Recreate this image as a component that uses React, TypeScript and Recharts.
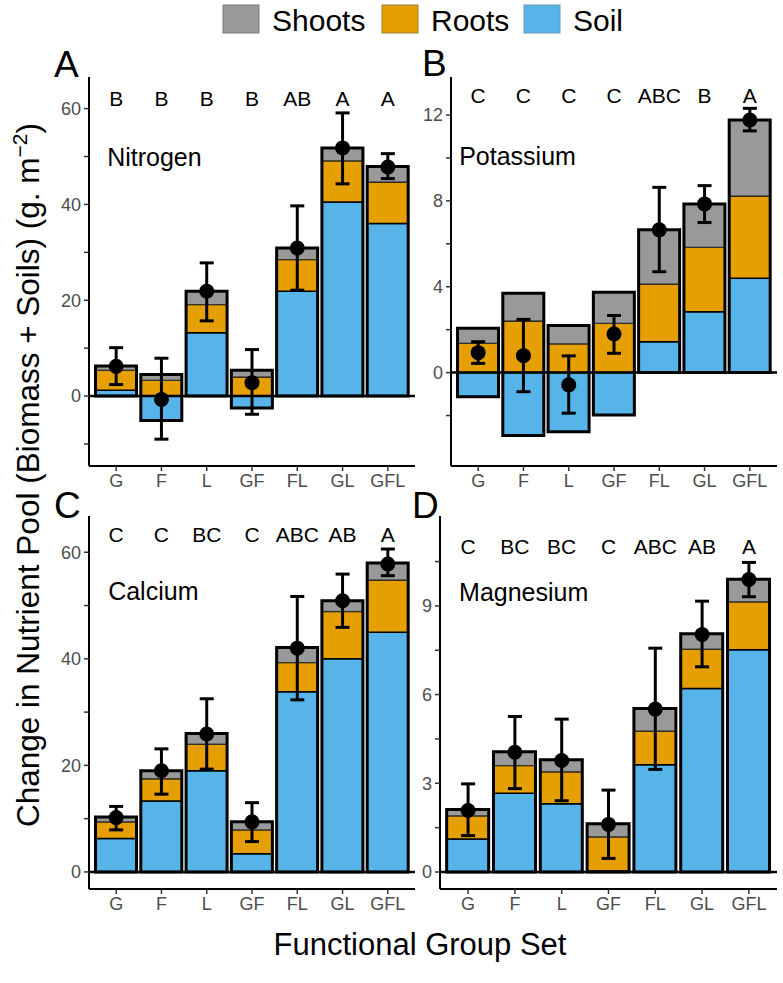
import React from 'react'
import { ComposedChart, Bar, Line, XAxis, YAxis, ReferenceLine, ReferenceDot, ErrorBar } from 'recharts'

const FONT = '"Liberation Sans", Arial, Helvetica, sans-serif'
const SOIL = '#56B4E9'
const ROOTS = '#E69F00'
const SHOOTS = '#999999'
const TICK_TEXT = '#4D4D4D'

const groups = ['G', 'F', 'L', 'GF', 'FL', 'GL', 'GFL']

// A: nitrogen
const nSoil = [1.2, -5.1, 13.2, -2.5, 21.9, 40.5, 36.0]
const nRoots = [4.2, 3.3, 5.9, 4.0, 6.6, 8.6, 8.7]
const nShoots = [0.9, 1.2, 2.8, 1.4, 2.4, 2.7, 3.2]
const nMean = [6.2, -0.7, 21.9, 2.8, 30.9, 51.8, 47.8]
const nLo = [2.4, -9.0, 15.7, -3.8, 22.1, 44.3, 45.4]
const nHi = [10.1, 7.9, 27.8, 9.7, 39.7, 59.1, 50.6]
const nLetters = ['B', 'B', 'B', 'B', 'AB', 'A', 'A']

// B: potassium
const kSoil = [-1.12, -2.93, -2.75, -1.97, 1.44, 2.84, 4.39]
const kRoots = [1.37, 2.41, 1.34, 2.3, 2.69, 3.0, 3.84]
const kShoots = [0.7, 1.29, 0.85, 1.44, 2.52, 2.02, 3.54]
const kMean = [0.93, 0.79, -0.57, 1.8, 6.65, 7.86, 11.77]
const kLo = [0.43, -0.89, -1.89, 0.9, 4.7, 6.99, 11.26]
const kHi = [1.44, 2.48, 0.78, 2.66, 8.63, 8.71, 12.31]
const kLetters = ['C', 'C', 'C', 'C', 'ABC', 'B', 'A']

// C: calcium
const caSoil = [6.3, 13.3, 19.0, 3.4, 33.8, 40.0, 45.0]
const caRoots = [3.1, 4.2, 5.0, 4.5, 5.5, 8.9, 9.8]
const caShoots = [0.9, 1.5, 2.0, 1.5, 2.8, 2.0, 3.2]
const caMean = [10.2, 19.0, 25.9, 9.4, 42.0, 50.9, 57.8]
const caLo = [7.9, 14.6, 19.3, 5.7, 32.3, 45.9, 55.6]
const caHi = [12.3, 23.1, 32.5, 13.0, 51.7, 55.9, 60.6]
const caLetters = ['C', 'C', 'BC', 'C', 'ABC', 'AB', 'A']

// D: magnesium
const mgSoil = [1.12, 2.66, 2.31, 0.03, 3.63, 6.21, 7.52]
const mgRoots = [0.78, 0.94, 1.08, 1.16, 1.14, 1.33, 1.62]
const mgShoots = [0.21, 0.47, 0.41, 0.44, 0.76, 0.52, 0.76]
const mgMean = [2.08, 4.05, 3.77, 1.61, 5.51, 8.03, 9.89]
const mgLo = [1.23, 2.82, 2.41, 0.46, 3.47, 6.94, 9.31]
const mgHi = [2.98, 5.26, 5.17, 2.77, 7.57, 9.16, 10.47]
const mgLetters = ['C', 'BC', 'BC', 'C', 'ABC', 'AB', 'A']

function buildRows(soil: number[], roots: number[], shoots: number[], mean: number[], lo: number[], hi: number[]) {
  return groups.map((g, i) => ({
    g,
    soil: soil[i],
    roots: roots[i],
    shoots: shoots[i],
    mean: mean[i],
    err: [mean[i] - lo[i], hi[i] - mean[i]],
    outline: [Math.min(soil[i], 0), Math.max(soil[i], 0) + roots[i] + shoots[i]],
  }))
}

type PanelProps = {
  rows: ReturnType<typeof buildRows>
  letters: string[]
  letterY: number
  name: string
  nameY: number
  nameDx: number
  domain: [number, number]
  ticks: number[]
  labelStep: number
  left: number
  top: number
  width: number
  height: number
  plot: { left: number; right: number; top: number; bottom: number }
}

function Dot(props: any) {
  const { cx, cy } = props
  if (cx == null || cy == null) return null
  return <circle cx={cx} cy={cy} r={7.5} fill="#000" />
}

function Panel(p: PanelProps) {
  const plotW = p.plot.right - p.plot.left
  const unit = plotW / 7.2
  const pad = unit * 0.1
  const barSize = Math.round(unit * 0.9)
  const margin = { top: p.plot.top - p.top, right: p.left + p.width - p.plot.right, left: 0, bottom: 0 }
  const tickFmt = (v: number) => (Math.abs(v % p.labelStep) < 1e-9 ? String(v) : '')
  const nameLabel = (props: any) => {
    const vb = props.viewBox
    return (
      <text x={vb.x + vb.width / 2 + p.nameDx} y={vb.y + vb.height / 2} dominantBaseline="central" fontSize={25} fontFamily={FONT} fill="#000">
        {p.name}
      </text>
    )
  }
  return (
    <div style={{ position: 'absolute', left: p.left, top: p.top }}>
      <ComposedChart width={p.width} height={p.height} data={p.rows} stackOffset="sign" margin={margin}>
        <XAxis
          dataKey="g"
          height={p.top + p.height - p.plot.bottom}
          padding={{ left: pad, right: pad }}
          interval={0}
          tick={{ fill: TICK_TEXT, fontSize: 18, fontFamily: FONT }}
          tickLine={{ stroke: '#333', strokeWidth: 1.5 }}
          axisLine={{ stroke: '#000', strokeWidth: 2 }}
          tickSize={5}
          tickMargin={3}
        />
        <XAxis xAxisId="o" dataKey="g" hide padding={{ left: pad, right: pad }} />
        <YAxis
          type="number"
          domain={p.domain}
          ticks={p.ticks}
          allowDataOverflow
          interval={0}
          width={p.plot.left - p.left}
          tickFormatter={tickFmt}
          tick={{ fill: TICK_TEXT, fontSize: 18, fontFamily: FONT }}
          tickLine={{ stroke: '#333', strokeWidth: 1.5 }}
          axisLine={{ stroke: '#000', strokeWidth: 2 }}
          tickSize={5}
          tickMargin={3}
        />
        <Bar dataKey="soil" stackId="s" fill={SOIL} stroke="#000" strokeWidth={1.5} barSize={barSize} isAnimationActive={false} />
        <Bar dataKey="roots" stackId="s" fill={ROOTS} stroke="#000" strokeWidth={1.5} barSize={barSize} isAnimationActive={false} />
        <Bar dataKey="shoots" stackId="s" fill={SHOOTS} stroke="#333" strokeWidth={1} barSize={barSize} isAnimationActive={false} />
        <Bar xAxisId="o" dataKey="outline" fill="none" stroke="#000" strokeWidth={3} barSize={barSize} isAnimationActive={false} />
        <ReferenceLine y={0} stroke="#000" strokeWidth={2.5} />
        <Line dataKey="mean" stroke="none" dot={<Dot />} activeDot={false} isAnimationActive={false}>
          <ErrorBar dataKey="err" direction="y" width={7} strokeWidth={3} stroke="#000" />
        </Line>
        {p.letters.map((l, i) => (
          <ReferenceDot
            key={groups[i]}
            x={groups[i]}
            y={p.letterY}
            r={1}
            fill="none"
            stroke="none"
            label={{ value: l, position: 'center', fill: '#000', fontSize: 21, fontFamily: FONT }}
          />
        ))}
        <ReferenceDot x="G" y={p.nameY} r={1} fill="none" stroke="none" label={nameLabel} />
      </ComposedChart>
    </div>
  )
}

export default function App() {
  return (
    <div style={{ position: 'absolute', left: 0, top: 0, width: 783, height: 983, background: '#fff', fontFamily: FONT }}>
      <Panel
        rows={buildRows(nSoil, nRoots, nShoots, nMean, nLo, nHi)}
        letters={nLetters}
        letterY={62}
        name="Nitrogen"
        nameY={50}
        nameDx={-9}
        domain={[-14.6, 66.6]}
        ticks={[-10, 0, 10, 20, 30, 40, 50, 60]}
        labelStep={20}
        left={20}
        top={60}
        width={400}
        height={440}
        plot={{ left: 89, right: 415, top: 77, bottom: 466 }}
      />
      <Panel
        rows={buildRows(kSoil, kRoots, kShoots, kMean, kLo, kHi)}
        letters={kLetters}
        letterY={12.9}
        name="Potassium"
        nameY={10.1}
        nameDx={-19}
        domain={[-4.35, 13.77]}
        ticks={[-2, 0, 2, 4, 6, 8, 10, 12]}
        labelStep={4}
        left={405}
        top={60}
        width={378}
        height={440}
        plot={{ left: 451, right: 777, top: 77, bottom: 466 }}
      />
      <Panel
        rows={buildRows(caSoil, caRoots, caShoots, caMean, caLo, caHi)}
        letters={caLetters}
        letterY={63.3}
        name="Calcium"
        nameY={52.7}
        nameDx={-8}
        domain={[-3.2, 66.8]}
        ticks={[0, 10, 20, 30, 40, 50, 60]}
        labelStep={20}
        left={20}
        top={500}
        width={400}
        height={430}
        plot={{ left: 89, right: 415, top: 516, bottom: 889 }}
      />
      <Panel
        rows={buildRows(mgSoil, mgRoots, mgShoots, mgMean, mgLo, mgHi)}
        letters={mgLetters}
        letterY={11}
        name="Magnesium"
        nameY={9.47}
        nameDx={-9}
        domain={[-0.575, 12.04]}
        ticks={[0, 1.5, 3, 4.5, 6, 7.5, 9, 10.5]}
        labelStep={3}
        left={405}
        top={500}
        width={378}
        height={430}
        plot={{ left: 440, right: 777, top: 516, bottom: 889 }}
      />
      <svg width={783} height={983} style={{ position: 'absolute', left: 0, top: 0, pointerEvents: 'none' }} fontFamily={FONT}>
        <rect x={223} y={5} width={36} height={28} fill={SHOOTS} stroke="#7a7a7a" strokeWidth={1} />
        <text x={272} y={31} fontSize={30} fill="#000">Shoots</text>
        <rect x={382} y={5} width={36} height={28} fill={ROOTS} stroke="#9a7a3a" strokeWidth={1} />
        <text x={431} y={31} fontSize={30} fill="#000">Roots</text>
        <rect x={524} y={5} width={36} height={28} fill={SOIL} stroke="#6a9ab8" strokeWidth={1} />
        <text x={573} y={31} fontSize={30} fill="#000">Soil</text>

        <text x={54} y={77} fontSize={37} fill="#000">A</text>
        <text x={422} y={76} fontSize={37} fill="#000">B</text>
        <text x={54} y={518} fontSize={37} fill="#000">C</text>
        <text x={412} y={518} fontSize={37} fill="#000">D</text>

        <text x={420} y={955} fontSize={31} fill="#000" textAnchor="middle">Functional Group Set</text>
        <text transform="translate(39,475) rotate(-90)" fontSize={31.5} fill="#000" textAnchor="middle">
          Change in Nutrient Pool (Biomass + Soils) (g. m<tspan fontSize={21} dy={-12}>−2</tspan><tspan dy={12}>)</tspan>
        </text>
      </svg>
    </div>
  )
}
